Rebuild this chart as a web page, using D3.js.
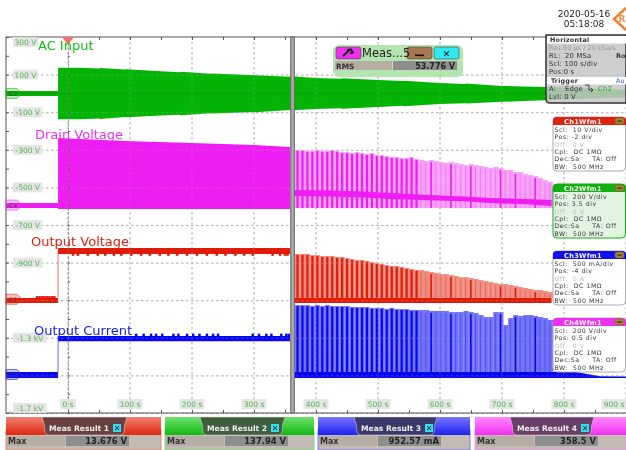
<!DOCTYPE html>
<html><head><meta charset="utf-8">
<script src="https://cdnjs.cloudflare.com/ajax/libs/d3/7.8.5/d3.min.js"></script>
<style>html,body{margin:0;padding:0;background:#fff}svg{display:block;filter:blur(.25px)}text{font-family:"DejaVu Sans",sans-serif}</style>
</head><body><svg id="c" width="626" height="450"></svg>
<script>
const yTickLabels = [[300,"300 V"],[100,"100 V"],[-100,"-100 V"],[-300,"-300 V"],[-500,"-500 V"],[-700,"-700 V"],[-900,"-900 V"],[-1300,"-1.3 kV"],[-1700,"-1.7 kV"]];
const xTickValues = [0,100,200,300,400,500,600,700,800,900];
const stepTime = -16;
const cursorTime = 362;
const acT  = [-16,20,50,52,92,94,150,180,182,230,232,300,302,358,360,400,440,442,500,540,542,600,640,642,700,735,770,830,900];
const acHi = [137,136,133,135,127,129,118,113,115,104,106,96,97,89,91,82,78,80,71,66,67,55,50,52,40,37,34,28,20];
const acLo = [-138,-137,-133,-136,-125,-127,-118,-113,-116,-105,-107,-99,-100,-88,-90,-83,-79,-81,-72,-66,-68,-56,-52,-54,-45,-40,-36,-29,-20];
const acPreT=[-100,-16], acPreHi=[13,13], acPreLo=[-14,-14];
const drainT=[-16,92,200,300,358], drainHi=[-237,-253,-264,-274,-285], drainLo=[-615,-615,-615,-615,-615];
const drainPreT=[-100,-16], drainPreHi=[-583,-583], drainPreLo=[-610,-610];
const outVT=[-16,358], outVHi=[-822,-822], outVLo=[-854,-854];
const outVPreT=[-100,-16], outVPreHi=[-1088,-1088], outVPreLo=[-1115,-1115];
const outVBumps=[6,14,30,46,58,72,84,100,116,130,146,160,174,190,206,222,238,252,268,282,296,328,340,348,352];
const outVPreBumps=[-52,-48,-44,-40,-36,-32,-28,-24];
const outIT=[-16,358], outIHi=[-1290,-1290], outILo=[-1318,-1318];
const outIBumps=[108,120,132,140,150,168,176,190,200,210,222,232,240,296,306,318,326,342,350,354];
const outIPreT=[-100,-16], outIPreHi=[-1482,-1482], outIPreLo=[-1514,-1514];
const pulseT=[370,378,386,394,402,410,418,426,434,442,450,458,466,474,482,490,498,506,514,522,530,538,546,554,562,570,578,586,594,602,610,618,626,634,642,650,658,666,674,682,690,698,706,714,722,730,738,746,754,762,770,778];
const drainTop=[-301,-301,-306,-306,-301,-306,-306,-301,-306,-312,-312,-317,-312,-317,-322,-317,-328,-328,-333,-338,-338,-344,-344,-338,-349,-354,-360,-354,-360,-365,-370,-365,-370,-376,-381,-376,-381,-386,-391,-397,-391,-397,-407,-407,-418,-418,-429,-434,-439,-450,-461,-471];
const outVTop=[-854,-854,-854,-860,-860,-865,-865,-865,-870,-870,-876,-881,-886,-886,-891,-897,-902,-907,-913,-918,-918,-923,-929,-934,-939,-939,-945,-950,-955,-961,-961,-966,-971,-977,-977,-982,-987,-993,-998,-1003,-1009,-1014,-1014,-1019,-1024,-1030,-1035,-1040,-1046,-1046,-1051,-1056];
const outITop=[-1126,-1126,-1126,-1131,-1126,-1131,-1126,-1131,-1131,-1131,-1131,-1136,-1136,-1136,-1136,-1141,-1141,-1141,-1147,-1141,-1147,-1147,-1147,-1152,-1152,-1152,-1152,-1157,-1157,-1157,-1157,-1163,-1163,-1163,-1157,-1163,-1168,-1179,-1189,-1189,-1163,-1163,-1232,-1195,-1179,-1184,-1179,-1179,-1184,-1189,-1195,-1205];
const strongPulses=[27,31,35,41,44,48];
const drainBandT=[362,420,480,520,580,640,680,740,780], drainBandHi=[-514,-516,-522,-530,-540,-548,-556,-562,-567], drainBandLo=[-546,-548,-554,-562,-568,-574,-583,-590,-599];
const drainBaseLo=-610;
const outVBaseT=[362,780], outVBaseHi=[-1088,-1088], outVBaseLo=[-1115,-1115];
const outIBaseT=[362,819,858,900], outIBaseHi=[-1482,-1482,-1504,-1506], outIBaseLo=[-1514,-1514,-1514,-1514];
const channelMarks=[["C2",0,"#10b810"],["C4",-594,"#f030f0"],["C1",-1095,"#e03020"],["C3",-1495,"#2020f0"]];
const chanPanels=[
 {name:"Ch1Wfm1",color:"#e02010",bg:"#fff",rows:["Scl:  10 V/div","Pos: -2 div","Off:  0 V","Cpl:  DC 1MΩ","Dec:Sa     TA: Off","BW:  500 MHz"]},
 {name:"Ch2Wfm1",color:"#10b010",bg:"#e2f3e2",rows:["Scl:  200 V/div","Pos: 3.5 div","Off:  0 V","Cpl:  DC 1MΩ","Dec:Sa     TA: Off","BW:  500 MHz"]},
 {name:"Ch3Wfm1",color:"#1010f0",bg:"#fff",rows:["Scl:  500 mA/div","Pos: -4 div","Off:  0 A","Cpl:  DC 1MΩ","Dec:Sa     TA: Off","BW:  500 MHz"]},
 {name:"Ch4Wfm1",color:"#f030f0",bg:"#fff",rows:["Scl:  200 V/div","Pos: 0.5 div","Off:  0 V","Cpl:  DC 1MΩ","Dec:Sa     TA: Off","BW:  500 MHz"]}];
const measPanels=[
 {t:"Meas Result 1",v:"13.676 V",c:"#e02810",l:"#f08070",tab:"#6a4040",x:6,w:155,tx:42,tw:85},
 {t:"Meas Result 2",v:"137.94 V",c:"#10b810",l:"#70e070",tab:"#3f5f3f",x:165,w:149,tx:200,tw:85},
 {t:"Meas Result 3",v:"952.57 mA",c:"#2020f0",l:"#7878ff",tab:"#3a3a6a",x:318,w:152,tx:354,tw:83},
 {t:"Meas Result 4",v:"358.5 V",c:"#f030f0",l:"#ff88ff",tab:"#6a3f6a",x:475,w:151,tx:510,tw:84}];
const traceLabels=[["AC Input",38,50,"#10c010"],["Drain Voltage",35,139,"#f030f0"],["Output Voltage",31,246,"#e02010"],["Output Current",34,335,"#2020f0"]];

// ---- layout ----
const svg=d3.select("#c");
const x=d3.scaleLinear().domain([0,900]).range([68,626]);
const y=d3.scaleLinear().domain([300,-1700]).range([37,413]);
const L=x(-100),R=626,T=y(300),B=y(-1700);
const defs=svg.append("defs");
defs.append("clipPath").attr("id","plot").append("rect").attr("x",L).attr("y",T).attr("width",R-L).attr("height",B-T);
[...measPanels].forEach((p,i)=>{const g=defs.append("linearGradient").attr("id","mg"+i).attr("x1",0).attr("x2",0).attr("y1",0).attr("y2",1);
 g.append("stop").attr("offset",0).attr("stop-color",p.l);g.append("stop").attr("offset",1).attr("stop-color",p.c);});

function grid(parent,op){
 const g=parent.append("g").attr("opacity",op).attr("stroke","#b4b4b4").attr("stroke-dasharray","2.5 2.5");
 g.selectAll("line.v").data(d3.range(-100,901,100).slice(1)).join("line").attr("x1",d=>x(d)).attr("x2",d=>x(d)).attr("y1",T).attr("y2",B);
 g.selectAll("line.h").data(d3.range(300,-1701,-200).slice(1)).join("line").attr("y1",d=>y(d)+.5).attr("y2",d=>y(d)+.5).attr("x1",L).attr("x2",R);
}
grid(svg,1);
const plot=svg.append("g").attr("clip-path","url(#plot)");
function band(T_,H,Lo,color){
 const a=d3.area().x((d,i)=>x(T_[i])).y0((d,i)=>y(Lo[i])).y1((d,i)=>y(H[i])).curve(d3.curveLinear);
 plot.append("path").attr("d",a(T_)).attr("fill",color);
}
function bumps(ts,v0,v1,color){
 plot.append("g").selectAll("rect").data(ts).join("rect").attr("x",d=>x(d)).attr("width",2.5).attr("y",y(v0)).attr("height",y(v1)-y(v0)).attr("fill",color);
}
// green
band(acPreT,acPreHi,acPreLo,"#06ae06");
band(acT,acHi,acLo,"#04b404");
plot.append("line").attr("x1",L).attr("x2",R).attr("y1",y(0)).attr("y2",y(0)).attr("stroke","#078a07").attr("stroke-width",.8).attr("opacity",.6);
// pulses
const period=x(pulseT[1])-x(pulseT[0]);
function pulses(top,baseV,light,dark){
 const g=plot.append("g");
 g.selectAll("rect.l").data(pulseT).join("rect").attr("x",d=>x(d)-period/2).attr("width",period+.2)
  .attr("y",(d,i)=>y(top[i])).attr("height",(d,i)=>y(baseV)-y(top[i])).attr("fill",light);
 g.selectAll("rect.d").data(pulseT).join("rect").attr("x",d=>x(d)-1).attr("width",(d,i)=>i<25?2.2:(strongPulses.includes(i)?1.6:1))
  .attr("y",(d,i)=>y(top[i])+(i<25?1:2)).attr("height",(d,i)=>y(baseV)-y(top[i])-(i<25?1:2)).attr("fill",dark)
  .attr("opacity",(d,i)=>i<25||strongPulses.includes(i)?1:.3);
}
// magenta
band(drainPreT,drainPreHi,drainPreLo,"#f01cf4");
band(drainT,drainHi,drainLo,"#f01cf4");
pulses(drainTop,drainBaseLo,"#f9a0fa","#f01cf4");
band(drainBandT,drainBandHi,drainBandLo,"#f01cf4");
// red
band(outVPreT,outVPreHi,outVPreLo,"#e01c08");
bumps(outVPreBumps,-1078,-1090,"#e01c08");
plot.append("line").attr("x1",x(stepTime)).attr("x2",x(stepTime)).attr("y1",y(outVPreHi[1])).attr("y2",y(outVHi[0])).attr("stroke","#f07060").attr("stroke-width",1);
band(outVT,outVHi,outVLo,"#e01c08");
bumps(outVBumps,-852,-864,"#e01c08");
pulses(outVTop,outVBaseHi[0],"#f08c80","#e01c08");
band(outVBaseT,outVBaseHi,outVBaseLo,"#e01c08");
// blue
band(outIPreT,outIPreHi,outIPreLo,"#0808f0");
plot.append("line").attr("x1",x(stepTime)).attr("x2",x(stepTime)).attr("y1",y(outIPreHi[1])).attr("y2",y(outIHi[0])).attr("stroke","#6a6aff").attr("stroke-width",1);
band(outIT,outIHi,outILo,"#0808f0");
bumps(outIBumps,-1278,-1292,"#0808f0");
pulses(outITop,outIBaseHi[0],"#7272fa","#0808f0");
band(outIBaseT,outIBaseHi,outIBaseLo,"#0808f0");
grid(svg,.3);

// frame, axes
svg.append("rect").attr("x",L).attr("y",T).attr("width",R-L+2).attr("height",B-T).attr("fill","none").attr("stroke","#555");
const minorX=d3.range(-50,901,50), minorY=d3.range(300,-1701,-100);
svg.append("g").attr("transform",`translate(0,${B})`).call(d3.axisTop(x).tickValues(minorX).tickSize(3).tickFormat("")).call(g=>g.select(".domain").remove()).selectAll("line").attr("stroke","#555");
svg.append("g").attr("transform",`translate(0,${T})`).call(d3.axisBottom(x).tickValues(minorX).tickSize(3).tickFormat("")).call(g=>g.select(".domain").remove()).selectAll("line").attr("stroke","#555");
svg.append("g").attr("transform",`translate(${L},0)`).call(d3.axisRight(y).tickValues(minorY).tickSize(3).tickFormat("")).call(g=>g.select(".domain").remove()).selectAll("line").attr("stroke","#555");
svg.append("g").attr("transform",`translate(${x(0)},0)`).call(d3.axisRight(y).tickValues(minorY).tickSize(2).tickFormat("")).call(g=>g.select(".domain").attr("stroke","#666").attr("stroke-opacity",.55).attr("stroke-dasharray","3 1")).selectAll("line").attr("stroke","#555");
// cursor
svg.append("rect").attr("x",x(cursorTime)-1.7).attr("y",T).attr("width",3.6).attr("height",B-T).attr("fill","#aaa").attr("stroke","#666").attr("stroke-width",1);
// tick labels
function tlab(txt,cx,cy,anchor){
 const w=txt.length*4.4+3;
 const gx=anchor==="start"?cx:cx-w/2;
 svg.append("rect").attr("x",gx).attr("y",cy-5).attr("width",w).attr("height",10).attr("fill","#e2e2e2").attr("opacity",.9);
 svg.append("text").attr("x",gx+w/2).attr("y",cy+3).attr("text-anchor","middle").attr("font-size",7.5).attr("fill","#4cb84c").text(txt);
}
yTickLabels.forEach(([v,t])=>{const c=v===300?y(v)+5:v===-1700?y(v)-5:y(v);tlab(t,13,c,"start");});
xTickValues.forEach(v=>{ if(v<900) tlab(v+" s",x(v),404); else tlab(v+" s",x(v)-12,404);});
// markers
channelMarks.forEach(([n,v,c])=>{const yy=y(v);
 svg.append("path").attr("d",`M6,${yy-5}H17L22,${yy}L17,${yy+5}H6Z`).attr("fill",c).attr("fill-opacity",.28).attr("stroke",c).attr("stroke-opacity",.6);
 svg.append("text").attr("x",13).attr("y",yy+2.5).attr("text-anchor","middle").attr("font-size",6.5).attr("fill","#333").attr("opacity",.7).text(n);});
svg.append("path").attr("d",`M${x(0)-6},${T}H${x(0)+6}L${x(0)},${T+8}Z`).attr("fill","#f0706a");
// trace titles
traceLabels.forEach(([t,a,b,c])=>svg.append("text").attr("x",a).attr("y",b).attr("font-size",13).attr("fill",c).text(t));
// timestamp + logo
svg.append("text").attr("x",584).attr("y",17).attr("text-anchor","middle").attr("font-size",9).attr("font-weight",500).attr("fill","#222").text("2020-05-16");
svg.append("text").attr("x",584).attr("y",27).attr("text-anchor","middle").attr("font-size",9).attr("fill","#222").text("05:18:08");
svg.append("path").attr("d","M626,8L614,19L626,30").attr("fill","none").attr("stroke","#f08030").attr("stroke-width",2.5);
svg.append("text").attr("x",618.5).attr("y",22).attr("font-size",9).attr("font-weight",700).attr("fill","#f09050").text("R");
// horizontal panel
svg.append("path").attr("d","M546,35V99Q546,103 550,103H626V35Z").attr("fill","#c6c6c6").attr("fill-opacity",.85).attr("stroke","#333").attr("stroke-width",1.5);
svg.append("rect").attr("x",547).attr("y",36).attr("width",79).attr("height",7.5).attr("fill","#fff");
svg.append("rect").attr("x",547).attr("y",77).attr("width",79).attr("height",7.5).attr("fill","#fff");
const hTxt=(t,xx,yy,o={})=>svg.append("text").attr("x",xx).attr("y",yy).attr("font-size",o.s||6.8).attr("font-weight",o.b?700:400).attr("letter-spacing",o.ls||.2).attr("fill",o.c||"#333").text(t);
hTxt("Horizontal",550,42,{b:1,s:6.4});
hTxt("Res:50 µs / 20 kSa/s",549,50,{c:"#999",s:6.4,ls:.1});
hTxt("RL:",549,58);hTxt("20 MSa",565,58);hTxt("Ro",616,58,{b:1,s:6.4,ls:0});
hTxt("Scl: 100 s/div",549,66);hTxt("Pos:0 s",549,74);
hTxt("Trigger",551,83,{b:1,s:6.4});hTxt("Au",616,83,{c:"#3060e0",s:6.4,ls:0});
hTxt("A:",549,91);hTxt("Edge",565,91);hTxt("Ch2",598,91,{c:"#30b030"});
svg.append("path").attr("d","M585,85H589V90H593M591,88L593,90L591,92").attr("fill","none").attr("stroke","#333").attr("stroke-width",.9);
hTxt("Lvl: 0 V",549,99);
// channel panels
const btn=(xx,yy)=>{svg.append("rect").attr("x",xx).attr("y",yy).attr("width",9).attr("height",6).attr("rx",2).attr("fill","#a88430").attr("stroke","#7a6020").attr("stroke-width",.5);
 svg.append("rect").attr("x",xx+2).attr("y",yy+2.5).attr("width",5).attr("height",1.2).attr("fill","#333");};
chanPanels.forEach((p,i)=>{const top=[117,184,251,318][i];
 svg.append("rect").attr("x",553).attr("y",top).attr("width",72.5).attr("height",54).attr("rx",4).attr("fill",p.bg).attr("stroke",i===1?"#10b010":"#aaa");
 svg.append("path").attr("d",`M553,${top+8}V${top+3}Q553,${top} 557,${top}H622Q626,${top} 626,${top+3}V${top+8}Z`).attr("fill",p.color);
 svg.append("text").attr("x",583).attr("y",top+6.6).attr("text-anchor","middle").attr("font-size",6.6).attr("letter-spacing",.3).attr("font-weight",700).attr("fill","#fff").text(p.name);
 btn(615,top+1);
 p.rows.forEach((r,j)=>svg.append("text").attr("x",554.5).attr("y",top+14.8+j*7.4).attr("font-size",6.2).attr("letter-spacing",.55).attr("fill",j===2?"#bbb":"#333").style("white-space","pre").text(r));
});
// measurement widget
svg.append("rect").attr("x",333).attr("y",45).attr("width",130).attr("height",32).attr("rx",6).attr("fill","#b4e4b0");
[[336,25,"#f030f0"],[407,25,"#a87850"],[434,25,"#30e8f0"]].forEach(([a,w,c])=>svg.append("rect").attr("x",a).attr("y",47).attr("width",w).attr("height",12).attr("rx",2).attr("fill",c).attr("stroke","#444").attr("stroke-width",.6));
svg.append("path").attr("d","M343,56L349,50.5M347,50L351,49.5L353,52.5L350,53.5").attr("fill","none").attr("stroke","#111").attr("stroke-width",1.8);
svg.append("rect").attr("x",415).attr("y",54.5).attr("width",9).attr("height",1.6).attr("fill","#111");
svg.append("text").attr("x",446.5).attr("y",56.5).attr("text-anchor","middle").attr("font-size",9).attr("font-weight",700).attr("fill","#111").text("✕");
svg.append("text").attr("x",362).attr("y",57).attr("font-size",11.5).attr("fill","#222").text("Meas...5");
svg.append("rect").attr("x",335).attr("y",61).attr("width",57).attr("height",9).attr("fill","#b6aea4");
svg.append("rect").attr("x",393).attr("y",61).attr("width",64).attr("height",9).attr("fill","#8e8e8e");
svg.append("text").attr("x",336).attr("y",68.5).attr("font-size",7.4).attr("font-weight",600).attr("fill","#333").text("RMS");
svg.append("text").attr("x",455).attr("y",68.5).attr("text-anchor","end").attr("font-size",8).attr("font-weight",600).attr("fill","#222").text("53.776 V");
// result panels
measPanels.forEach((p,i)=>{
 svg.append("rect").attr("x",p.x).attr("y",430).attr("width",p.w).attr("height",20).attr("fill","#c4bcb4").attr("stroke",p.l);
 svg.append("rect").attr("x",p.x).attr("y",417).attr("width",p.w).attr("height",18).attr("fill",`url(#mg${i})`);
 svg.append("path").attr("d",`M${p.tx},417Q${p.tx+3},425 ${p.tx+3},432Q${p.tx+3},435 ${p.tx+7},435H${p.tx+p.tw-7}Q${p.tx+p.tw-3},435 ${p.tx+p.tw-3},432Q${p.tx+p.tw-3},425 ${p.tx+p.tw},417Z`).attr("fill",p.tab).attr("stroke","#ddd").attr("stroke-width",.5);
 svg.append("text").attr("x",p.tx+7).attr("y",431).attr("font-size",7.6).attr("font-weight",700).attr("fill","#eee").text(p.t);
 svg.append("rect").attr("x",p.tx+71).attr("y",424).attr("width",8).attr("height",8).attr("fill","#30e0f0");
 svg.append("text").attr("x",p.tx+75).attr("y",431).attr("text-anchor","middle").attr("font-size",8).attr("font-weight",700).attr("fill","#123").text("✕");
 svg.append("rect").attr("x",p.x+1).attr("y",436).attr("width",58).attr("height",10).attr("fill","#b6aea4");
 svg.append("rect").attr("x",p.x+60).attr("y",436).attr("width",63).attr("height",10).attr("fill","#8e8e8e");
 svg.append("text").attr("x",p.x+2).attr("y",444).attr("font-size",8).attr("font-weight",600).attr("fill","#333").text("Max");
 svg.append("text").attr("x",p.x+121).attr("y",444).attr("text-anchor","end").attr("font-size",8.4).attr("font-weight",600).attr("fill","#222").text(p.v);
});
</script></body></html>
